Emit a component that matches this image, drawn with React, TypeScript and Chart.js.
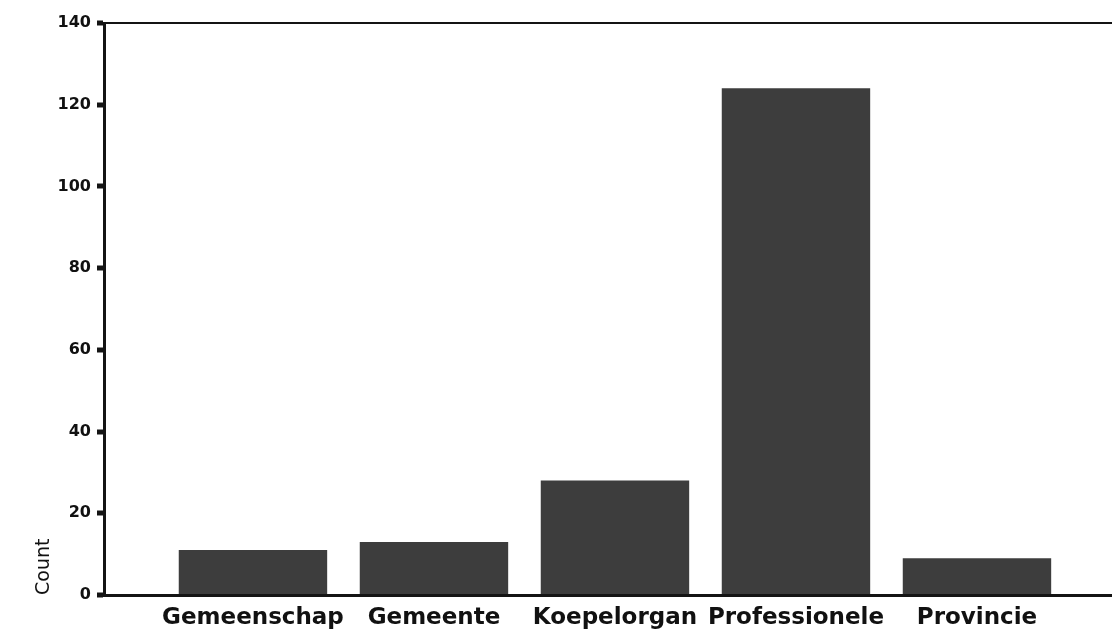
import React, { useEffect, useRef } from "react";
import { Chart, registerables } from "chart.js";

Chart.register(...registerables);

const categories: string[] = ["Gemeenschap", "Gemeente", "Koepelorgan", "Professionele", "Provincie"];
const counts: number[] = [11, 13, 28, 124, 9];
const yTicks: number[] = [0, 20, 40, 60, 80, 100, 120, 140];

export default function App() {
  const ref = useRef<HTMLCanvasElement | null>(null);

  useEffect(() => {
    if (!ref.current) return;
    const ink = "#141414";
    const chart = new Chart(ref.current, {
      type: "bar",
      data: {
        datasets: [
          {
            label: "Count",
            data: counts.map((v, i) => ({ x: i, y: v })),
            backgroundColor: "#3d3d3d",
            borderWidth: 0,
            barPercentage: 0.82,
            categoryPercentage: 1,
          },
        ],
      },
      options: {
        animation: false,
        responsive: false,
        devicePixelRatio: 1,
        layout: { padding: { top: 23, right: 0, bottom: 0, left: 0 } },
        plugins: { legend: { display: false }, tooltip: { enabled: false } },
        scales: {
          x: {
            type: "linear",
            offset: false,
            min: -0.823,
            max: 4.746,
            afterFit: (s: any) => {
              s.height = 39;
            },
            grid: { display: false, drawTicks: false, offset: false },
            border: { display: true, color: ink, width: 3 },
            ticks: {
              stepSize: 1,
              includeBounds: false,
              autoSkip: false,
              maxRotation: 0,
              padding: 9,
              color: "#111",
              font: { family: "DejaVu Sans", size: 23, weight: "bold" },
              callback: (v: any) => (Number.isInteger(v) && categories[v] !== undefined ? categories[v] : ""),
            },
          },
          y: {
            min: 0,
            max: 140,
            afterFit: (s: any) => {
              s.width = 104;
            },
            afterBuildTicks: (s: any) => {
              s.ticks = yTicks.map((v) => ({ value: v }));
            },
            border: { display: true, color: ink, width: 3 },
            grid: {
              drawOnChartArea: true,
              drawTicks: true,
              color: (ctx: any) => (ctx.tick && ctx.tick.value === 140 ? ink : "transparent"),
              lineWidth: 2,
              tickColor: ink,
              tickLength: 7,
              tickWidth: 5,
            },
            ticks: {
              padding: 6,
              color: "#111",
              font: { family: "DejaVu Sans", size: 16, weight: "bold" },
            },
            title: {
              display: true,
              text: "Count",
              align: "start",
              color: "#111",
              font: { family: "DejaVu Sans", size: 19 },
              padding: { top: 33, bottom: 0 },
            },
          },
        },
      },
    });
    return () => chart.destroy();
  }, []);

  return (
    <div style={{ position: "fixed", left: 0, top: 0, width: 1112, height: 634, background: "#fff" }}>
      <canvas ref={ref} width={1112} height={634} style={{ display: "block", width: 1112, height: 634 }} />
    </div>
  );
}
